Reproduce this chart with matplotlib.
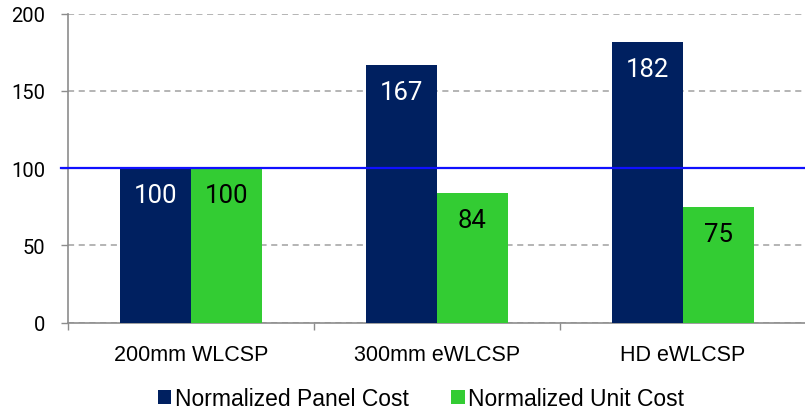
import matplotlib
matplotlib.use("Agg")
import matplotlib.pyplot as plt
import matplotlib.transforms as mtransforms
from matplotlib.ticker import FixedLocator, NullFormatter
import numpy as np

categories = ["200mm WLCSP", "300mm eWLCSP", "HD eWLCSP"]
panel_cost = [100, 167, 182]
unit_cost = [100, 84, 75]
series_names = ["Normalized Panel Cost", "Normalized Unit Cost"]
y_ticks = [0, 50, 100, 150, 200]

NAVY = "#002060"
GREEN = "#33cc33"
GRID = "#a0a0a0"
SPINE = "#8c8c8c"
REF_BLUE = "#1010ff"

W, H = 805, 410
fig = plt.figure(figsize=(W / 100, H / 100), dpi=100)
ax = fig.add_axes([68 / W, 86.3 / H, 738 / W, 309 / H])

x = np.arange(len(categories))
bw = 0.287
b1 = ax.bar(x - bw / 2, panel_cost, bw, color=NAVY, label=series_names[0], zorder=3)
b2 = ax.bar(x + bw / 2, unit_cost, bw, color=GREEN, label=series_names[1], zorder=3)

num_font = dict(family=["Roboto", "DejaVu Sans"], fontsize=18.5)
for rect, v in zip(b1, panel_cost):
    ax.annotate(str(v), (rect.get_x() + rect.get_width() / 2, v),
                xytext=(0, -11), textcoords="offset points",
                ha="center", va="top", color="white", zorder=4, **num_font)
for rect, v in zip(b2, unit_cost):
    ax.annotate(str(v), (rect.get_x() + rect.get_width() / 2, v),
                xytext=(0, -11), textcoords="offset points",
                ha="center", va="top", color="black", zorder=4, **num_font)

ax.set_xlim(-0.5, len(categories) - 0.5)
ax.set_ylim(0, 200)
ax.set_yticks(y_ticks)
ax.yaxis.grid(True, linestyle=(0, (4, 3)), color=GRID, linewidth=1.1, zorder=0)
ax.set_axisbelow(True)

# reference line at 100
trans = mtransforms.blended_transform_factory(ax.transAxes, ax.transData)
ax.plot([-7 / 738, 1], [100, 100], transform=trans, color=REF_BLUE,
        linewidth=1.6, clip_on=False, zorder=5)

ax.set_xticks(x)
ax.set_xticklabels(categories, family=["Liberation Sans", "DejaVu Sans"], fontsize=15.5)
ax.xaxis.set_minor_locator(FixedLocator([-0.5, 0.5, 1.5]))
ax.xaxis.set_minor_formatter(NullFormatter())
ax.tick_params(axis="x", which="major", length=0, pad=15)
ax.tick_params(axis="x", which="minor", length=5, color=SPINE, width=1)
ax.tick_params(axis="y", length=5, color=SPINE, width=1, pad=11.5)
for lab in ax.get_yticklabels():
    lab.set_family(["Roboto", "DejaVu Sans"])
    lab.set_fontsize(14.5)

for s in ["top", "right"]:
    ax.spines[s].set_visible(False)
for s in ["left", "bottom"]:
    ax.spines[s].set_color(SPINE)
    ax.spines[s].set_linewidth(1.2)

leg = fig.legend(handles=[b1, b2], loc="center", bbox_to_anchor=(421 / W, 10 / H),
                 ncol=2, frameon=False, handlelength=0.57, handleheight=0.57,
                 handletextpad=0.17, columnspacing=1.88,
                 prop=dict(family=["Liberation Sans", "DejaVu Sans"], size=16.5))

fig.savefig("out.png", dpi=100)
